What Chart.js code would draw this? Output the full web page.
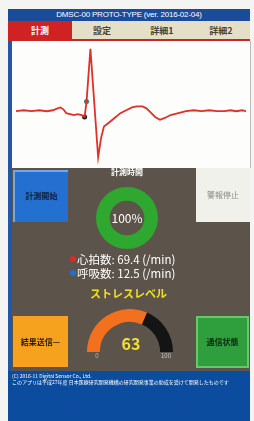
<!DOCTYPE html>
<html><head><meta charset="utf-8">
<script src="https://cdn.jsdelivr.net/npm/chart.js@4.4.1/dist/chart.umd.min.js"></script>
<style>
html,body{margin:0;padding:0;}
body{width:254px;height:421px;position:relative;overflow:hidden;background:#f4f4f2;font-family:"Noto Sans CJK JP","Noto Sans",sans-serif;}
.abs{position:absolute;}
#title{left:8px;top:9px;width:242px;height:12px;background:#1b4c9c;color:#fff;font-size:8px;line-height:12px;text-align:center;font-family:"Liberation Sans Narrow","Liberation Sans",sans-serif;letter-spacing:-0.2px;}
#tabs{left:8px;top:21px;width:242px;height:19px;background:#e6dfc8;}
.tab{position:absolute;top:0;height:19px;line-height:19px;font-size:9px;font-weight:bold;text-align:center;color:#4a4234;}
#redline{left:8px;top:39px;width:242px;height:2px;background:#c42828;}
#leftbar{left:8px;top:41px;width:4px;height:330px;background:#2257a8;}
#ecgbox{left:12px;top:41px;width:238px;height:127px;background:#fdfdfb;border-right:1px solid #bbb;}
#panel{left:12px;top:168px;width:238px;height:203px;background:#5c544b;}
#footer{left:8px;top:371px;width:242px;height:50px;background:#0c4c9e;color:#fff;font-size:5px;line-height:6px;}
.btn{position:absolute;box-sizing:border-box;text-align:center;font-weight:bold;font-size:8px;}
.lbl{position:absolute;color:#fff;white-space:nowrap;}
.dot{position:absolute;width:6px;height:6px;border-radius:3px;}
</style></head>
<body>
<div id="title" class="abs">DMSC-00 PROTO-TYPE (ver. 2016-02-04)</div>
<div id="tabs" class="abs">
  <div class="tab" style="left:0;width:64px;background:#d02222;color:#fff;">計測</div>
  <div class="tab" style="left:64px;width:60px;">設定</div>
  <div class="tab" style="left:124px;width:60px;">詳細1</div>
  <div class="tab" style="left:184px;width:58px;">詳細2</div>
</div>
<div id="redline" class="abs"></div>
<div id="ecgbox" class="abs"><canvas id="ecg"></canvas></div>
<div id="panel" class="abs"></div>
<div id="leftbar" class="abs"></div>

<div class="btn" style="left:13px;top:170px;width:55px;height:52px;background:#2470d0;border-top:2px solid #7aa6e0;border-left:2px solid #7aa6e0;color:#10243c;line-height:48px;">計測開始</div>
<div class="btn" style="left:196px;top:168px;width:54px;height:54px;background:#f1f1ec;color:#8a8a84;font-weight:normal;line-height:54px;">警報停止</div>
<div class="lbl" style="left:110px;top:166px;width:34px;text-align:center;font-size:8px;font-weight:bold;line-height:12px;">計測時間</div>

<div class="abs" style="left:96px;top:187px;width:62px;height:62px;"><canvas id="ring"></canvas></div>
<div class="lbl" style="left:96px;top:209px;width:62px;text-align:center;font-size:12px;line-height:18px;">100%</div>

<div class="dot" style="left:70px;top:256px;background:#e02828;"></div>
<div class="lbl" style="left:77px;top:251px;font-size:11.5px;line-height:16px;">心拍数: 69.4 (/min)</div>
<div class="dot" style="left:70px;top:270px;background:#2070d0;"></div>
<div class="lbl" style="left:77px;top:265px;font-size:11.5px;line-height:16px;">呼吸数: 12.5 (/min)</div>
<div class="lbl" style="left:90px;top:285px;width:76px;text-align:center;font-size:11px;font-weight:bold;line-height:16px;color:#f0e020;">ストレスレベル</div>

<div class="abs" style="left:87px;top:309px;width:86px;height:43px;"><canvas id="gauge"></canvas></div>
<div class="lbl" style="left:110px;top:333px;width:42px;text-align:center;font-size:16px;font-weight:bold;line-height:20px;color:#f0e030;">63</div>
<div class="lbl" style="left:92px;top:352px;width:10px;text-align:center;font-size:6px;line-height:8px;color:#bbb;">0</div>
<div class="lbl" style="left:158px;top:352px;width:16px;text-align:center;font-size:6px;line-height:8px;color:#ccc;">100</div>

<div class="btn" style="left:13px;top:316px;width:55px;height:51px;background:#f7a21e;color:#2a1a08;line-height:51px;">結果送信—</div>
<div class="btn" style="left:196px;top:316px;width:53px;height:52px;background:#2f9e3c;border:2px solid #6cc46c;color:#0c2a10;line-height:48px;">通信状態</div>

<div id="footer" class="abs"><div style="padding:2px 0 0 4px;">(C) 2016-11 Digital Sensor Co., Ltd.<br>このアプリは平成27年度 日本医療研究開発機構の研究開発事業の助成を受けて開発したものです</div></div>

<script>
// ECG trace (time in ms, amplitude in mV)
const ecgTimeMs = [0,40,80,120,160,190,215,230,245,260,280,300,320,340,355,365,385,425,440,455,480,510,540,570,600,625,655,675,695,720,745,770,800,840,880,920,960,1000,1040,1080,1110,1140,1170,1190];
const ecgMv     = [0,0.02,0,0.02,0,0.02,0.06,0.08,0.04,-0.04,-0.06,-0.08,-0.06,-0.08,-0.12,0.20,1.30,-0.96,-0.56,-0.32,-0.24,-0.14,-0.04,0.02,0.08,0.10,0.10,0.06,-0.02,-0.12,-0.18,-0.14,-0.08,-0.04,0,0.02,0,0.02,0,0,0.02,0,0.02,0];
// detected markers
const markerTimeMs = [355, 365];
const markerMv     = [-0.12, 0.20];
// measurement progress (%)
const progressDone = [100];
const progressLeft = [0];
// stress level
const stressValue = [63];
const stressRest  = [37];
const stressTicks = ['0', '100'];

Chart.defaults.animation = false;
Chart.defaults.devicePixelRatio = 1;

new Chart(document.getElementById('ecg'), {
  type: 'line',
  data: {
    datasets: [
      { data: ecgTimeMs.map((t,i)=>({x:t,y:ecgMv[i]})), borderColor:'#e0302a', borderWidth:1.8, pointRadius:0, tension:0 },
      { data: markerTimeMs.map((t,i)=>({x:t,y:markerMv[i]})), showLine:false, pointRadius:2.5, pointBorderWidth:0,
        pointBackgroundColor:['#1a1a1a','#1a8a78'] }
    ]
  },
  options: {
    responsive:true, maintainAspectRatio:false,
    layout:{padding:0},
    plugins:{legend:{display:false}, tooltip:{enabled:false}},
    scales:{
      x:{type:'linear', min:0, max:1190, display:false},
      y:{min:-1.10, max:1.38, display:false}
    }
  }
});

new Chart(document.getElementById('ring'), {
  type: 'doughnut',
  data: { datasets: [{ data:[progressDone[0], progressLeft[0]], backgroundColor:['#2ea82e','#3a3a3a'], borderWidth:0 }] },
  options: { responsive:true, maintainAspectRatio:false, cutout:'56%', plugins:{legend:{display:false}, tooltip:{enabled:false}} }
});

new Chart(document.getElementById('gauge'), {
  type: 'doughnut',
  data: { labels: stressTicks, datasets: [{ data:[stressValue[0], stressRest[0]], backgroundColor:['#f2701e','#141414'], borderWidth:0 }] },
  options: { responsive:true, maintainAspectRatio:false, rotation:-90, circumference:180, cutout:'70%',
    plugins:{legend:{display:false}, tooltip:{enabled:false}} }
});
</script>
</body></html>
